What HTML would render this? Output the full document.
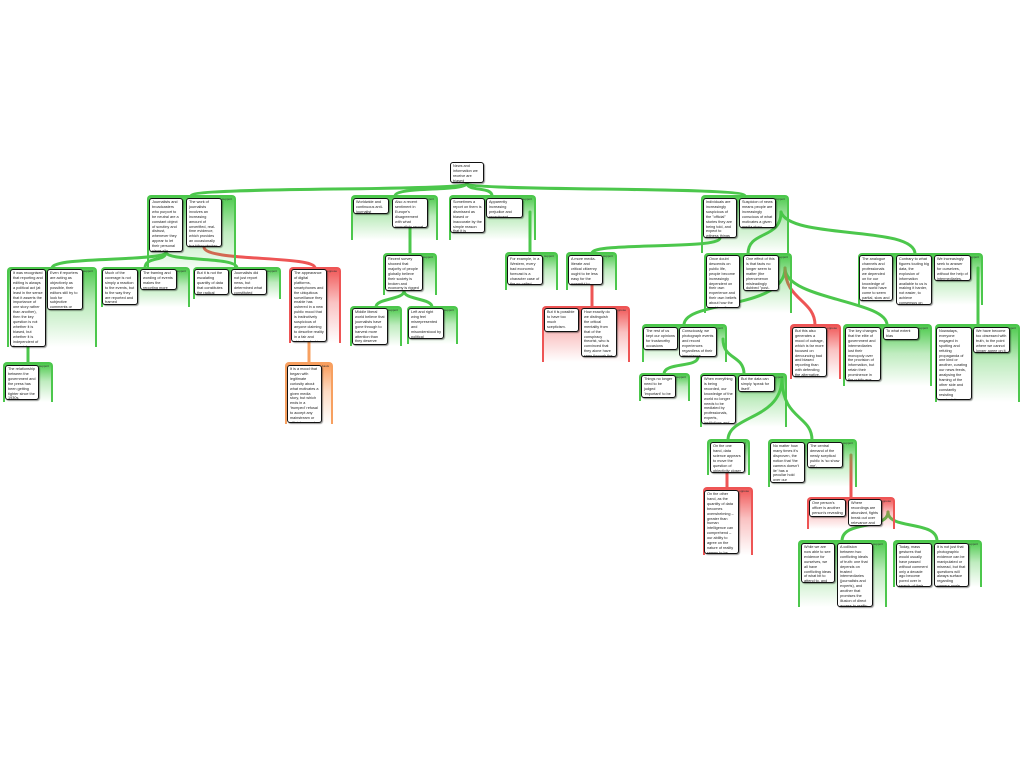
<!DOCTYPE html>
<html><head><meta charset="utf-8"><style>
html,body{margin:0;padding:0;background:#fff;width:1024px;height:768px;overflow:hidden;position:relative;font-family:"Liberation Sans",sans-serif}
.g{position:absolute;border-radius:4px 4px 0 0;box-sizing:border-box}
.gg{background:linear-gradient(to bottom,rgba(70,200,70,.95),rgba(70,200,70,.35) 45%,rgba(255,255,255,0));border-top:2px solid #4cc74c;border-left:2px solid #4cc74c;border-right:2px solid #4cc74c}
.gr{background:linear-gradient(to bottom,rgba(240,80,80,.95),rgba(240,80,80,.35) 45%,rgba(255,255,255,0));border-top:2px solid #ee5555;border-left:2px solid #ee5555;border-right:2px solid #ee5555}
.go{background:linear-gradient(to bottom,rgba(250,150,80,.95),rgba(250,150,80,.35) 45%,rgba(255,255,255,0));border-top:2px solid #f7a060;border-left:2px solid #f7a060;border-right:2px solid #f7a060}
.g span{position:absolute;right:2px;top:0;font-size:3px;color:#333}
.n{position:absolute;background:#fff;border:1.5px solid #111;border-radius:3px;box-sizing:border-box;font-size:3.8px;line-height:4.9px;padding:1px 2px;overflow:hidden;color:#222;box-shadow:1px 1px 1px rgba(0,0,0,.4)}
svg{position:absolute;left:0;top:0}
</style></head><body>
<svg width="1024" height="768" fill="none" stroke-linecap="round">
<g stroke="#4cc74c" stroke-width="3">
<path d="M467 183 C467 192 191 186 191 196"/>
<path d="M467 183 C467 192 395 186 395 196"/>
<path d="M467 183 C467 192 492 186 492 196"/>
<path d="M467 183 C467 192 745 186 745 196"/>
<path d="M166 252 C166 262 52 256 52 268"/>
<path d="M166 252 C166 262 145 256 145 268"/>
<path d="M166 252 C166 262 237 256 237 268"/>
<path d="M28 347 L28 363"/>
<path d="M410 228 L410 254"/>
<path d="M404 291 C404 300 376 298 376 307"/>
<path d="M404 291 C404 300 432 298 432 307"/>
<path d="M530 212 L530 253"/>
<path d="M720 238 C720 250 592 242 592 253"/>
<path d="M781 212 C781 240 748 230 748 254"/>
<path d="M781 212 C790 240 915 225 915 254"/>
<path d="M978 268 L978 325"/>
<path d="M785 268 C785 310 684 300 684 325"/>
<path d="M785 268 C785 300 887 300 887 325"/>
<path d="M723 339 C723 360 744 355 744 374"/>
<path d="M698 357 C698 368 664 362 664 374"/>
<path d="M782 378 C782 420 728 415 728 440"/>
<path d="M782 378 C782 420 812 415 812 440"/>
<path d="M888 512 C888 530 842 520 842 541"/>
<path d="M888 512 C888 530 937 520 937 541"/>
</g>
<g stroke="#ee5555" stroke-width="3">
<path d="M204 247 C204 262 315 255 315 268"/>
<path d="M592 285 L592 307"/>
<path d="M785 268 C785 300 815 300 815 325"/>
<path d="M727 473 L727 488"/>
<path d="M851 455 L851 498"/>
</g>
<path d="M309 342 L309 363" stroke="#f7a060" stroke-width="3"/>
</svg>

<div class="g gg" style="left:147px;top:195px;width:89px;height:80px"><span>support</span></div>
<div class="g gg" style="left:351px;top:195px;width:87px;height:45px"><span>support</span></div>
<div class="g gg" style="left:449px;top:195px;width:87px;height:45px"><span>support</span></div>
<div class="g gg" style="left:701px;top:195px;width:88px;height:58px"><span>support</span></div>
<div class="g gg" style="left:7px;top:267px;width:90px;height:80px"><span>support</span></div>
<div class="g gg" style="left:101px;top:267px;width:89px;height:40px"><span>support</span></div>
<div class="g gg" style="left:193px;top:267px;width:88px;height:32px"><span>support</span></div>
<div class="g gr" style="left:289px;top:267px;width:52px;height:76px"><span>oppose</span></div>
<div class="g gg" style="left:3px;top:362px;width:50px;height:40px"><span>support</span></div>
<div class="g go" style="left:285px;top:362px;width:48px;height:62px"><span>basis</span></div>
<div class="g gg" style="left:383px;top:253px;width:54px;height:42px"><span>support</span></div>
<div class="g gg" style="left:350px;top:306px;width:52px;height:40px"><span>support</span></div>
<div class="g gg" style="left:407px;top:306px;width:51px;height:38px"><span>support</span></div>
<div class="g gg" style="left:505px;top:252px;width:53px;height:38px"><span>support</span></div>
<div class="g gg" style="left:566px;top:252px;width:51px;height:38px"><span>support</span></div>
<div class="g gr" style="left:542px;top:306px;width:88px;height:56px"><span>oppose</span></div>
<div class="g gg" style="left:704px;top:253px;width:88px;height:60px"><span>support</span></div>
<div class="g gg" style="left:858px;top:253px;width:125px;height:52px"><span>support</span></div>
<div class="g gg" style="left:642px;top:324px;width:85px;height:38px"><span>support</span></div>
<div class="g gr" style="left:790px;top:324px;width:51px;height:55px"><span>oppose</span></div>
<div class="g gg" style="left:843px;top:324px;width:89px;height:62px"><span>support</span></div>
<div class="g gg" style="left:935px;top:324px;width:85px;height:78px"><span>support</span></div>
<div class="g gg" style="left:639px;top:373px;width:51px;height:28px"><span>support</span></div>
<div class="g gg" style="left:700px;top:373px;width:87px;height:54px"><span>support</span></div>
<div class="g gg" style="left:707px;top:439px;width:43px;height:36px"><span>support</span></div>
<div class="g gg" style="left:768px;top:439px;width:89px;height:48px"><span>support</span></div>
<div class="g gr" style="left:703px;top:487px;width:50px;height:68px"><span>oppose</span></div>
<div class="g gr" style="left:807px;top:497px;width:88px;height:32px"><span>oppose</span></div>
<div class="g gg" style="left:798px;top:540px;width:89px;height:67px"><span>support</span></div>
<div class="g gg" style="left:893px;top:540px;width:89px;height:47px"><span>support</span></div>

<div class="n" style="left:450px;top:162px;width:34px;height:21px">News and information we receive are biased</div>
<div class="n" style="left:149px;top:198px;width:34px;height:54px">Journalists and broadcasters who purport to be neutral are a constant object of scrutiny and distrust, whenever they appear to let their personal views slip.</div>
<div class="n" style="left:186px;top:198px;width:36px;height:49px">The work of journalists involves an increasing amount of unverified, real-time evidence, which provides an occasionally troubling window into their thinking.</div>
<div class="n" style="left:353px;top:198px;width:36px;height:16px">Worldwide and continuous anti-journalist sentiment</div>
<div class="n" style="left:392px;top:198px;width:36px;height:30px">Also a recent sentiment in Europe's disagreement with what journalists report about society and politics.</div>
<div class="n" style="left:450px;top:198px;width:35px;height:35px">Sometimes a report on them is dismissed as biased or inaccurate by the simple reason that it is unwelcome.</div>
<div class="n" style="left:486px;top:198px;width:37px;height:20px">Apparently increasing prejudice and resentment</div>
<div class="n" style="left:703px;top:198px;width:34px;height:40px">Individuals are increasingly suspicious of the "official" stories they are being told, and expect to witness things for themselves.</div>
<div class="n" style="left:739px;top:198px;width:37px;height:30px">Suspicion of news means people are increasingly conscious of what motivates a given media story.</div>
<div class="n" style="left:10px;top:269px;width:36px;height:78px">It was recognised that reporting and editing is always a political act (at least in the sense that it asserts the importance of one story rather than another), then the key question is not whether it is biased, but whether it is independent of financial or political influence.</div>
<div class="n" style="left:47px;top:269px;width:36px;height:41px">Even if reporters are acting as objectively as possible, their editors still try to look for subjective comments or ambiguity</div>
<div class="n" style="left:102px;top:269px;width:36px;height:36px">Much of the coverage is not simply a reaction to the events, but to the way they are reported and framed</div>
<div class="n" style="left:140px;top:269px;width:37px;height:21px">The framing and wording of events makes the reporting more subjective.</div>
<div class="n" style="left:194px;top:269px;width:35px;height:26px">But it is not the escalating quantity of data that constitutes the radical change.</div>
<div class="n" style="left:231px;top:269px;width:36px;height:26px">Journalists did not just report news, but determined what constituted newsworthy.</div>
<div class="n" style="left:291px;top:269px;width:36px;height:73px">The appearance of digital platforms, smartphones and the ubiquitous surveillance they enable has ushered in a new public mood that is instinctively suspicious of anyone claiming to describe reality in a fair and objective fashion.</div>
<div class="n" style="left:5px;top:365px;width:34px;height:35px">The relationship between the government and the press has been getting tighter since the 1930s.</div>
<div class="n" style="left:287px;top:365px;width:35px;height:58px">It is a mood that began with legitimate curiosity about what motivates a given media story, but which ends in a 'trumped' refusal to accept any mainstream or official account of the world.</div>
<div class="n" style="left:385px;top:255px;width:38px;height:36px">Recent survey showed that majority of people globally believe their society is broken and economy is rigged</div>
<div class="n" style="left:352px;top:308px;width:36px;height:37px">Middle liberal world believe that journalists have gone through to harvest more attention than they deserve</div>
<div class="n" style="left:408px;top:308px;width:36px;height:31px">Left and right wing feel misrepresented and misunderstood by political institutions and media</div>
<div class="n" style="left:507px;top:255px;width:36px;height:30px">For example, in a Western, every bad economic forecast is a character case of the so-called expert fear</div>
<div class="n" style="left:568px;top:255px;width:35px;height:30px">A more media-literate and critical citizenry ought to be less easy for the powerful to manipulate.</div>
<div class="n" style="left:544px;top:308px;width:35px;height:24px">But it is possible to have too much scepticism.</div>
<div class="n" style="left:581px;top:308px;width:36px;height:49px">How exactly do we distinguish the critical mentality from that of the conspiracy theorist, who is convinced that they alone have seen through the official version of events?</div>
<div class="n" style="left:706px;top:255px;width:34px;height:53px">Once doubt descends on public life, people become increasingly dependent on their own experience and their own beliefs about how the world really works.</div>
<div class="n" style="left:743px;top:255px;width:36px;height:36px">One effect of this is that facts no longer seem to matter (the phenomenon misleadingly dubbed "post-truth").</div>
<div class="n" style="left:859px;top:255px;width:34px;height:46px">The analogue channels and professionals we depended on for our knowledge of the world have come to seem partial, slow and disposable.</div>
<div class="n" style="left:896px;top:255px;width:36px;height:50px">Contrary to what figures touting big data, the explosion of information available to us is making it harder, not easier, to achieve consensus on truth.</div>
<div class="n" style="left:934px;top:255px;width:37px;height:26px">We increasingly seek to answer for ourselves, without the help of intermediaries.</div>
<div class="n" style="left:643px;top:327px;width:35px;height:23px">The rest of us kept our opinions for trustworthy occasions</div>
<div class="n" style="left:679px;top:327px;width:38px;height:30px">Consciously, we photograph events and record experiences regardless of their importance.</div>
<div class="n" style="left:792px;top:327px;width:35px;height:50px">But this also generates a mood of outrage, which is far more focused on denouncing bad and biased reporting than with defending the alternative.</div>
<div class="n" style="left:845px;top:327px;width:36px;height:54px">The key changes that the elite of government and intermediaries lost their monopoly over the provision of information, but retain their prominence in the public eye.</div>
<div class="n" style="left:883px;top:327px;width:36px;height:13px">To what extent bias</div>
<div class="n" style="left:936px;top:327px;width:36px;height:73px">Nowadays, everyone engaged in spotting and refuting propaganda of one kind or another, curating our news feeds, analysing the framing of the other side and constantly resisting manipulation.</div>
<div class="n" style="left:973px;top:327px;width:37px;height:26px">We have become too obsessed with truth, to the point where we cannot longer agree on it.</div>
<div class="n" style="left:641px;top:375px;width:35px;height:23px">Things no longer need to be judged 'important' to be captured</div>
<div class="n" style="left:701px;top:375px;width:35px;height:49px">When everything is being recorded, our knowledge of the world no longer needs to be mediated by professionals, experts, institutions and theories.</div>
<div class="n" style="left:738px;top:375px;width:37px;height:17px">But the data can simply 'speak for itself'.</div>
<div class="n" style="left:710px;top:442px;width:35px;height:31px">On the one hand, data science appears to move the question of objectivity closer to reality.</div>
<div class="n" style="left:770px;top:442px;width:35px;height:41px">No matter how many times it's disproven, the notion that 'the camera doesn't lie' has a peculiar hold over our imaginations.</div>
<div class="n" style="left:807px;top:442px;width:36px;height:26px">The central demand of the newly sceptical public is 'so show me'.</div>
<div class="n" style="left:704px;top:490px;width:35px;height:64px">On the other hand, as the quantity of data becomes overwhelming – greater than human intelligence can comprehend – our ability to agree on the nature of reality seems to be declining.</div>
<div class="n" style="left:809px;top:499px;width:37px;height:18px">One person's officer is another person's revealing nugget.</div>
<div class="n" style="left:848px;top:499px;width:34px;height:27px">Where recordings are abundant, fights break out over relevance and meaning.</div>
<div class="n" style="left:801px;top:543px;width:34px;height:40px">While we are now able to see evidence for ourselves, we all have conflicting ideas of what bit to attend to, and what it means.</div>
<div class="n" style="left:837px;top:543px;width:36px;height:64px">A collision between two conflicting ideals of truth: one that depends on trusted intermediaries (journalists and experts), and another that promises the illusion of direct access to reality itself.</div>
<div class="n" style="left:896px;top:543px;width:36px;height:44px">Today, mass gestures that would usually have passed without comment only a decade ago become pored over in search of their hidden message.</div>
<div class="n" style="left:934px;top:543px;width:35px;height:44px">It is not just that photographic evidence can be manipulated or misread, but that questions will always surface regarding camera angle and context.</div>
</body></html>
